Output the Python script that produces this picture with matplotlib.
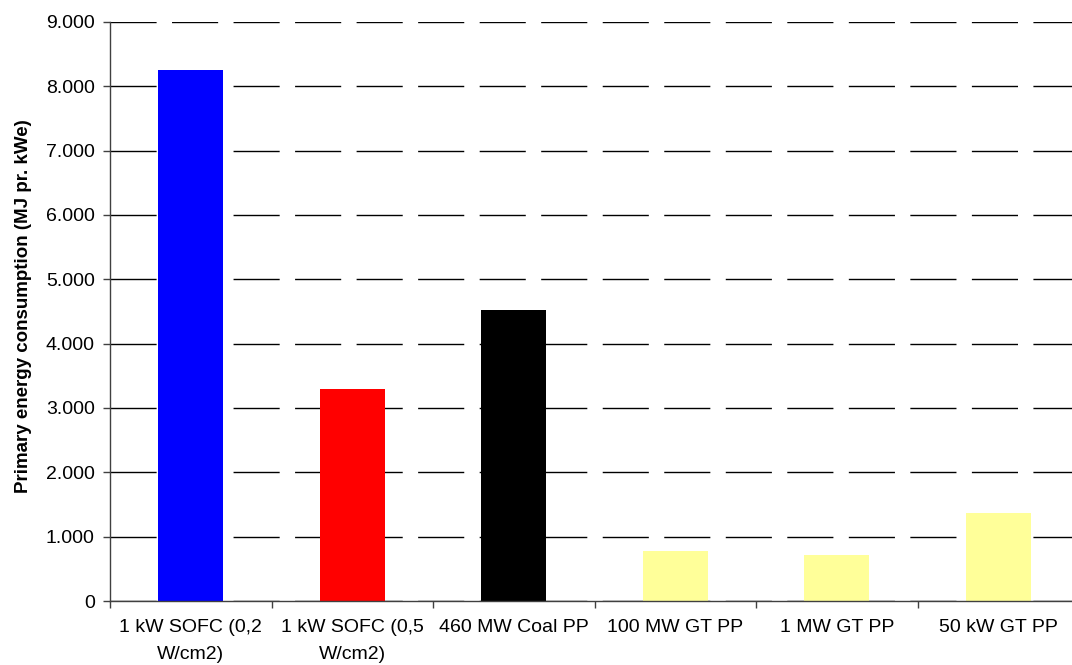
import numpy as np
import matplotlib
matplotlib.use("Agg")
import matplotlib.pyplot as plt
from matplotlib.ticker import FuncFormatter, FixedLocator

# Данные
categories = ["1 kW SOFC (0,2\nW/cm2)", "1 kW SOFC (0,5\nW/cm2)", "460 MW Coal PP",
              "100 MW GT PP", "1 MW GT PP", "50 kW GT PP"]
values = [8250, 3300, 4520, 780, 710, 1365]
colors = ["#0000FF", "#FF0000", "#000000", "#FFFF99", "#FFFF99", "#FFFF99"]
y_ticks = [0, 1000, 2000, 3000, 4000, 5000, 6000, 7000, 8000, 9000]

plt.rcParams["font.family"] = ["Liberation Sans", "DejaVu Sans"]

fig = plt.figure(figsize=(10.72, 6.65), dpi=100)
ax = fig.add_axes([110 / 1072, 64 / 665, 969 / 1072, 579 / 665])

x = np.arange(len(categories))
ax.bar(x, values, width=0.4, color=colors, zorder=3)

ax.set_xlim(-0.5, len(categories) - 0.5)
ax.set_ylim(0, 9000)

# Сетка пунктиром
ax.set_yticks(y_ticks)
ax.yaxis.set_major_formatter(FuncFormatter(lambda v, p: f"{v:,.0f}".replace(",", ".")))
ax.grid(axis="y", color="#000000", linewidth=1, linestyle=(0, (33.2, 11.1)), zorder=1)

ax.set_xticks(x)
ax.set_xticklabels(categories, linespacing=1.8)
ax.xaxis.set_minor_locator(FixedLocator(np.arange(-0.5, len(categories), 1.0)))
ax.tick_params(axis="x", which="major", length=0, pad=13, labelsize=14)
ax.tick_params(axis="x", which="minor", length=5, width=1, color="#404040")
ax.tick_params(axis="y", length=5, width=1, color="#404040", pad=6, labelsize=14)

for s in ["top", "right"]:
    ax.spines[s].set_visible(False)
for s in ["left", "bottom"]:
    ax.spines[s].set_color("#404040")
    ax.spines[s].set_linewidth(1)
    ax.spines[s].set_zorder(4)

ax.set_ylabel("Primary energy consumption (MJ pr. kWe)", fontsize=13.5, fontweight="bold")
ax.yaxis.set_label_coords(-78 / 969, 0.5086)

fig.savefig("out.png", dpi=100)
